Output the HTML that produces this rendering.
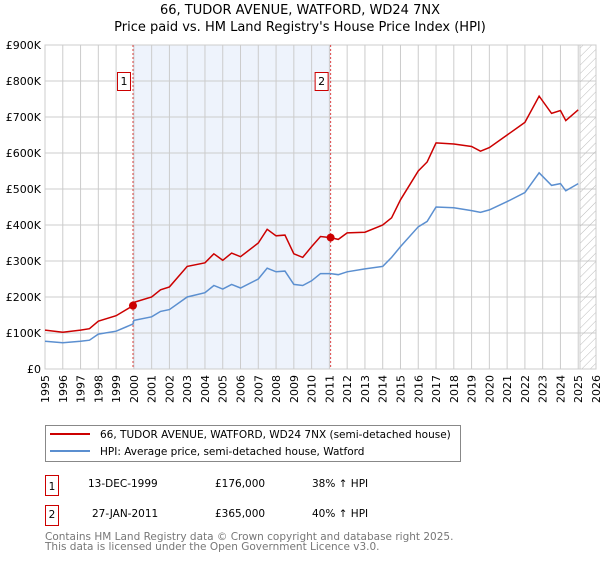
<!DOCTYPE html>
<html><head><meta charset="utf-8"><style>
body{margin:0;background:#fff;font-family:"Liberation Sans","DejaVu Sans",sans-serif}
svg text{font-family:"DejaVu Sans","Liberation Sans",sans-serif}
</style></head><body>
<svg width="600" height="560" xmlns="http://www.w3.org/2000/svg">
<defs><pattern id="hatch" width="6" height="6" patternUnits="userSpaceOnUse" patternTransform="rotate(45)"><line x1="0" y1="0" x2="0" y2="6" stroke="#bbb" stroke-width="1"/></pattern></defs>
<text x="300" y="14" text-anchor="middle" font-size="13">66, TUDOR AVENUE, WATFORD, WD24 7NX</text>
<text x="300" y="31" text-anchor="middle" font-size="13">Price paid vs. HM Land Registry's House Price Index (HPI)</text>
<g id="grid"></g><g id="plot"></g>
<g>
<rect x="45.5" y="425.5" width="415" height="36" fill="#fff" stroke="#888"/>
<line x1="50" y1="434" x2="90" y2="434" stroke="#cc0000" stroke-width="2"/>
<text x="100" y="438" font-size="10.5">66, TUDOR AVENUE, WATFORD, WD24 7NX (semi-detached house)</text>
<line x1="50" y1="451" x2="90" y2="451" stroke="#5b8fd0" stroke-width="2"/>
<text x="100" y="455" font-size="10.5">HPI: Average price, semi-detached house, Watford</text>
</g>
<g font-size="10.5">
<rect x="45.5" y="475.5" width="13" height="20" fill="#fff" stroke="#cc0000"/><text x="52" y="490" text-anchor="middle">1</text>
<text x="88" y="487">13-DEC-1999</text><text x="215" y="487">£176,000</text><text x="312" y="487">38% ↑ HPI</text>
<rect x="45.5" y="505.5" width="13" height="20" fill="#fff" stroke="#cc0000"/><text x="52" y="518" text-anchor="middle">2</text>
<text x="92" y="517">27-JAN-2011</text><text x="215" y="517">£365,000</text><text x="312" y="517">40% ↑ HPI</text>
</g>
<text x="45" y="540" font-size="10.5" fill="#777">Contains HM Land Registry data © Crown copyright and database right 2025.</text>
<text x="45" y="550" font-size="10.5" fill="#777">This data is licensed under the Open Government Licence v3.0.</text>
</svg>
<script>
const yearTicks=[1995,1996,1997,1998,1999,2000,2001,2002,2003,2004,2005,2006,2007,2008,2009,2010,2011,2012,2013,2014,2015,2016,2017,2018,2019,2020,2021,2022,2023,2024,2025,2026];
const valueTicks=[0,100,200,300,400,500,600,700,800,900];
const valueLabels=["£0","£100K","£200K","£300K","£400K","£500K","£600K","£700K","£800K","£900K"];
const dates=[1995,1996,1997,1997.5,1998,1999,1999.95,2000,2001,2001.5,2002,2003,2004,2004.5,2005,2005.5,2006,2007,2007.5,2008,2008.5,2009,2009.5,2010,2010.5,2011.07,2011.5,2012,2013,2014,2014.5,2015,2016,2016.5,2017,2018,2019,2019.5,2020,2021,2022,2022.8,2023.5,2024,2024.3,2025];
const hpiValues=[77,73,77,80,97,105,125,135,145,160,165,200,212,232,222,235,225,250,280,270,272,235,232,245,265,265,262,270,278,285,310,340,395,410,450,448,440,435,442,465,490,545,510,515,495,515];
const priceValues=[108,102,108,112,133,148,176,185,200,220,228,285,295,320,302,322,312,350,388,370,372,320,310,340,368,365,360,378,380,400,420,470,550,575,628,625,618,605,615,650,685,758,710,718,690,720];
const saleDates=[1999.95,2011.07];
const saleValues=[176,365];
const saleLabels=["1","2"];
const L=45,R=596,T=45,B=369;
const x=y=>L+(y-1995)*(R-L)/31;
const yv=v=>B-v*(B-T)/900;
const NS="http://www.w3.org/2000/svg";
const grid=document.getElementById('grid'),plot=document.getElementById('plot');
function mk(p,tag,a){const e=document.createElementNS(NS,tag);for(const k in a)e.setAttribute(k,a[k]);p.appendChild(e);return e;}
const shade=mk(grid,'rect',{x:x(saleDates[0]),y:T,width:x(saleDates[1])-x(saleDates[0]),height:B-T,fill:'#eef3fc'});


yearTicks.forEach(yr=>{mk(grid,'line',{x1:x(yr),y1:T,x2:x(yr),y2:B,stroke:'#ccc'});
const t=mk(grid,'text',{x:0,y:0,'font-size':11,'text-anchor':'end',transform:`translate(${x(yr)+4},${B+6}) rotate(-90)`});t.textContent=yr;

});
valueTicks.forEach((v,i)=>{mk(grid,'line',{x1:L,y1:yv(v),x2:R,y2:yv(v),stroke:'#ccc'});
const t=mk(grid,'text',{x:L-4,y:yv(v)+4,'font-size':11,'text-anchor':'end'});t.textContent=valueLabels[i];

});
const h=mk(grid,'rect',{x:x(2025.1),y:T,width:R-x(2025.1),height:B-T,fill:'url(#hatch)',stroke:'#ccc'});


mk(grid,'rect',{x:L,y:T,width:R-L,height:B-T,fill:'none',stroke:'#ccc'});
saleDates.forEach((d,i)=>{mk(plot,'line',{x1:x(d),y1:T,x2:x(d),y2:B,stroke:'#dd4444','stroke-dasharray':'2,2'});
const r=mk(plot,'rect',{x:x(d)-15.5,y:yv(800)-8.5,width:13,height:18,fill:'#fff',stroke:'#cc0000'});


const t=mk(plot,'text',{x:x(d)-9,y:yv(800)+4,'font-size':11,'text-anchor':'middle'});t.textContent=saleLabels[i];});
function line(vals,col,name){const p=mk(plot,'polyline',{points:dates.map((d,i)=>x(d)+','+yv(vals[i])).join(' '),fill:'none',stroke:col,'stroke-width':1.5});

}
line(hpiValues,'#5b8fd0','hpi-line');
line(priceValues,'#cc0000','price-line');
saleDates.forEach((d,i)=>{const c=mk(plot,'circle',{cx:x(d),cy:yv(saleValues[i]),r:4,fill:'#cc0000'});

});
</script>
</body></html>
